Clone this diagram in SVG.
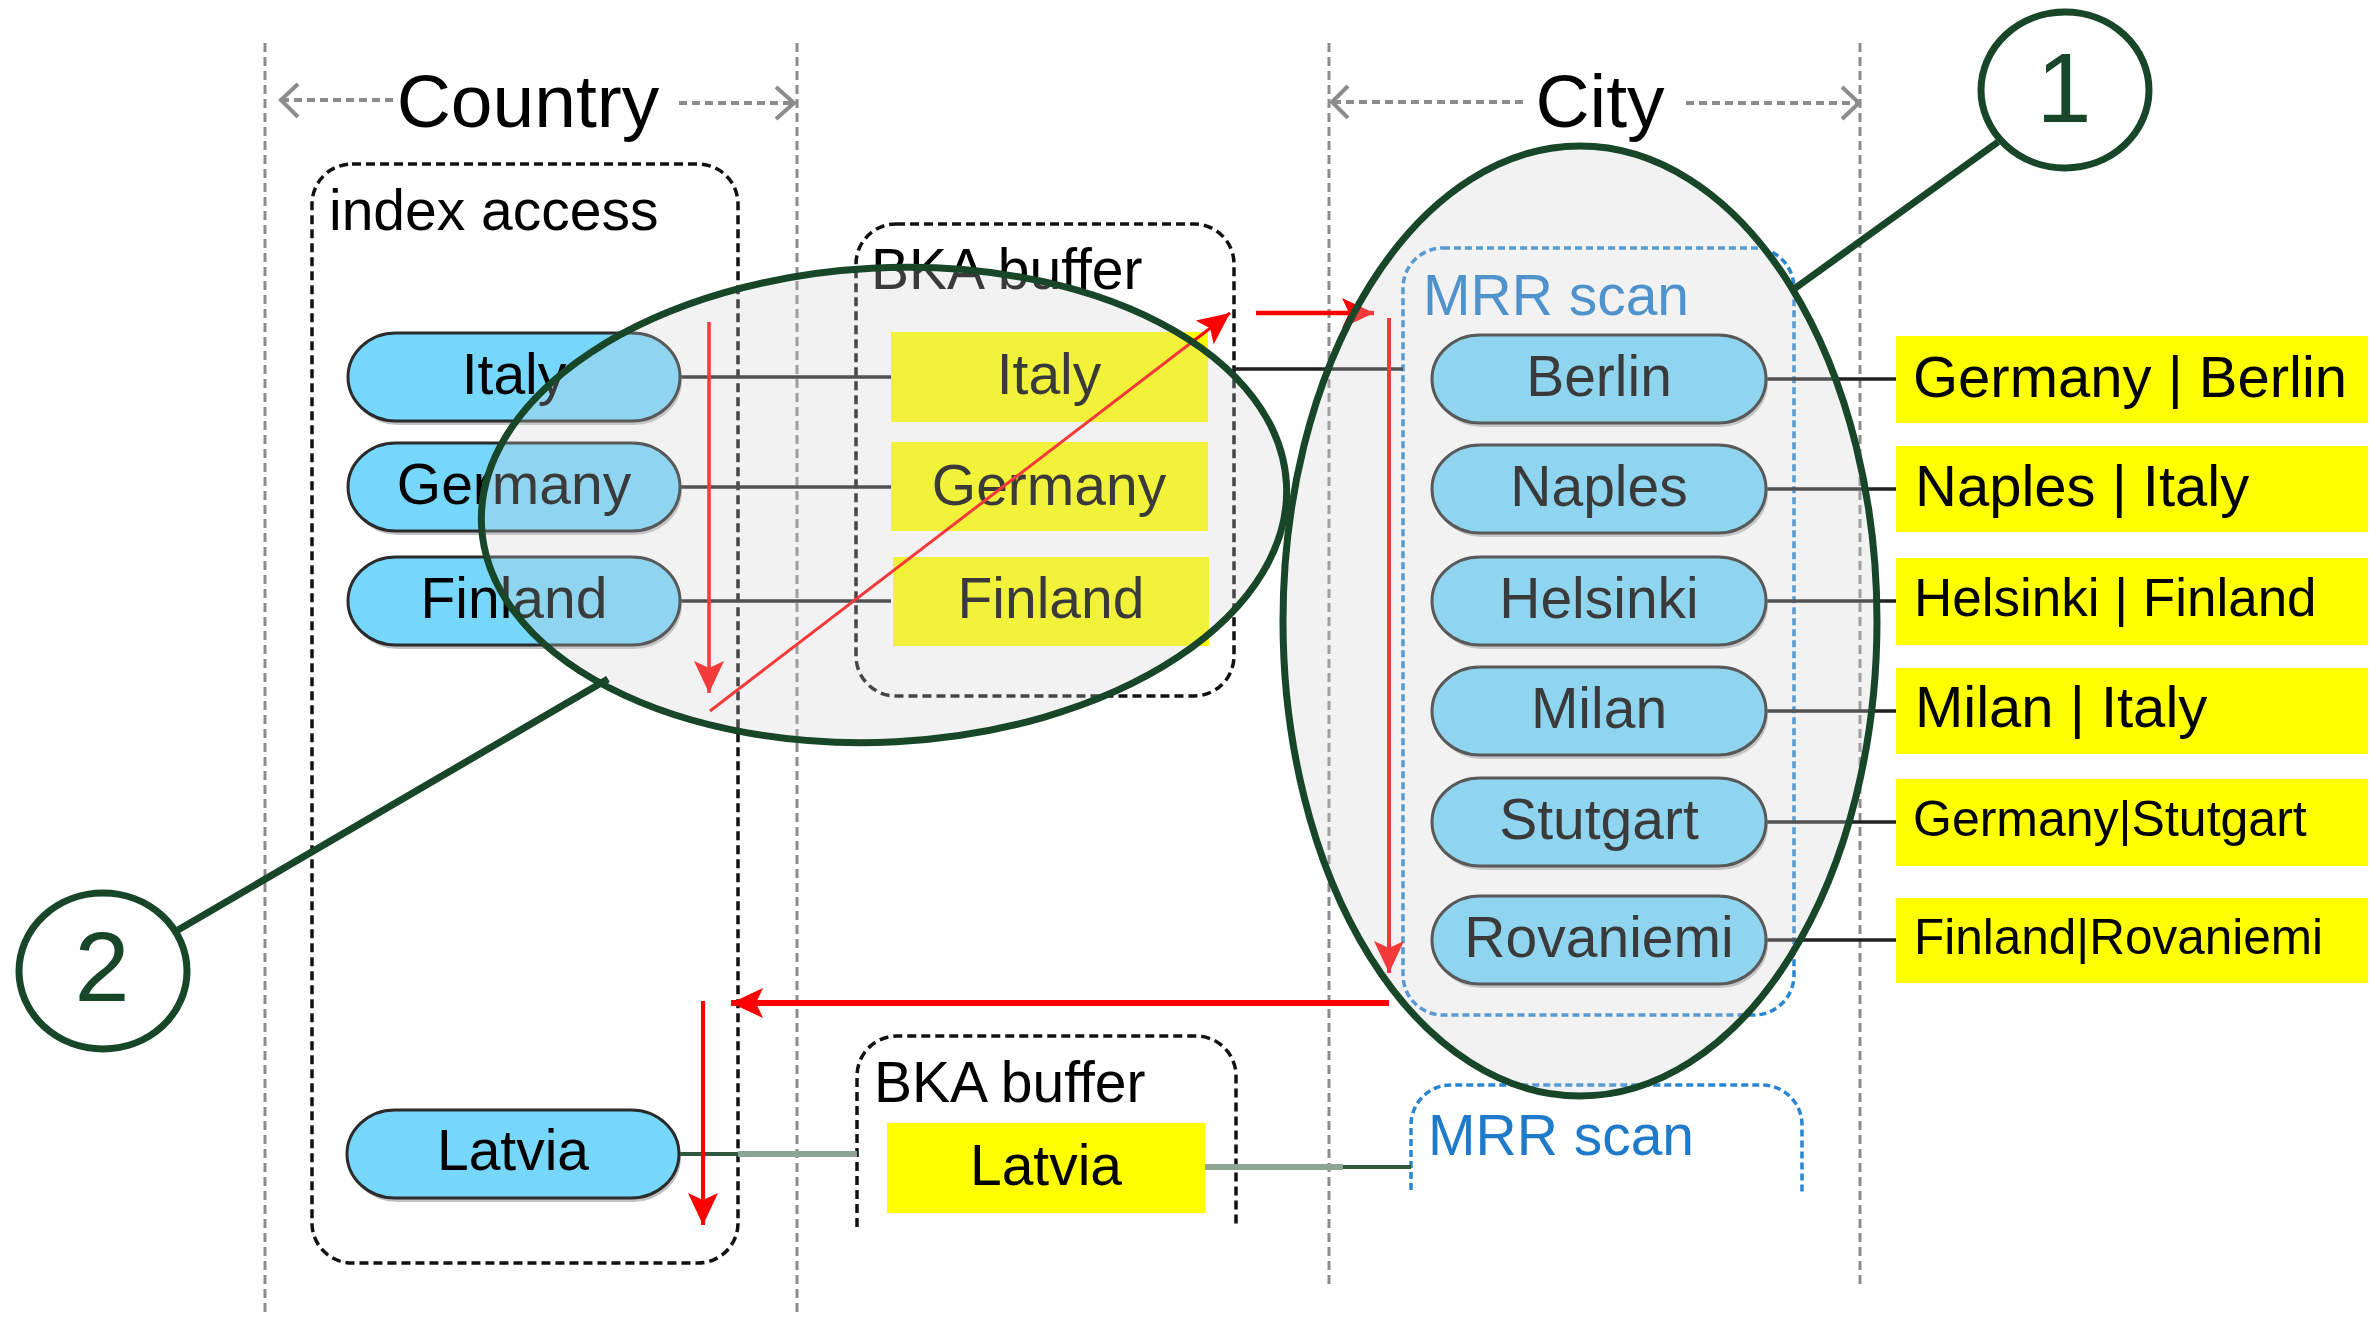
<svg xmlns="http://www.w3.org/2000/svg" width="2373" height="1321" viewBox="0 0 2373 1321">
<style>
text{font-family:"Liberation Sans",Arial,Helvetica,sans-serif}
.lbl{font-size:57px;text-anchor:middle;fill:#000}
.hdr{font-size:75px;text-anchor:middle;fill:#000}
.guide{stroke:#8c8c8c;stroke-width:3;stroke-dasharray:9 5;fill:none}
.span{stroke:#8c8c8c;stroke-width:4;stroke-dasharray:8 5;fill:none}
.chev{stroke:#8c8c8c;stroke-width:4;fill:none}
.box{fill:none;stroke:#111;stroke-width:3.5;stroke-dasharray:9 5}
.mrr{fill:none;stroke:#2a86d1;stroke-width:3.5;stroke-dasharray:7 4}
.mrrt{font-size:57px;fill:#1f7bc9}
.pill{fill:#76d7fb;stroke:#2b2b2b;stroke-width:3}
.shadow{fill:#8f8f8f;opacity:.55}
.ybox{fill:#ffff00}
.wire{stroke:#222;stroke-width:3.5}
.red{stroke:#ff0000;fill:none}
.zone{fill:#d0d0d0;fill-opacity:.28;stroke:#184628;stroke-width:7}
.lead{stroke:#184628;stroke-width:7;fill:none}
.tag{fill:none;stroke:#184628;stroke-width:7}
.num{font-size:99px;text-anchor:middle;fill:#184628}
.res{font-size:58px;fill:#000}
</style>
<defs>
<marker id="ah" markerUnits="userSpaceOnUse" markerWidth="34" markerHeight="30" viewBox="0 0 34 30" refX="32" refY="15" orient="auto"><path d="M0,0 L32,15 L0,30 L7,15 Z" fill="#ff0000"/></marker>
</defs>

<!-- column guides and headers -->
<g id="guides">
<path class="guide" d="M265,43 V1317 M797,43 V1317 M1329,43 V1287 M1860,43 V1287"/>
<path class="span" d="M281,100 H397 M679,103 H793 M1333,102 H1527 M1686,103 H1858"/>
<path class="chev" d="M298,84 L281,100 L298,117 M776,87 L794,103 L776,119 M1348,86 L1332,102 L1348,118 M1842,87 L1859,103 L1842,119"/>
<text class="hdr" x="528" y="127">Country</text>
<text class="hdr" x="1600" y="127">City</text>
</g>

<!-- dashed containers -->
<g id="index-access">
<rect class="box" x="312" y="164" width="426" height="1099" rx="40"/>
<text x="329" y="230" style="font-size:57px">index access</text>
</g>
<g id="bka-buffer-1">
<rect class="box" x="856" y="224" width="378" height="472" rx="40"/>
<text x="871" y="289" style="font-size:57px">BKA buffer</text>
</g>
<g id="bka-buffer-2">
<path class="box" d="M857,1227 V1076 A40,40 0 0 1 897,1036 H1196 A40,40 0 0 1 1236,1076 V1227"/>
<text x="874" y="1102" style="font-size:57px">BKA buffer</text>
</g>
<g id="mrr-scan-1">
<rect class="mrr" x="1403" y="248" width="391" height="767" rx="40"/>
<text class="mrrt" x="1423" y="315">MRR scan</text>
</g>
<g id="mrr-scan-2">
<path class="mrr" d="M1411,1190 V1125 A40,40 0 0 1 1451,1085 H1762 A40,40 0 0 1 1802,1125 V1192"/>
<text class="mrrt" x="1428" y="1155">MRR scan</text>
</g>

<!-- plain connectors -->
<g id="connectors">
<path class="wire" d="M680,377 H891 M680,487 H891 M680,601 H891 M1234,369 H1403"/>
<path class="wire" d="M1766,379 H1896 M1766,489 H1896 M1766,601 H1896 M1766,711 H1896 M1766,822 H1896 M1766,940 H1896"/>
<path d="M680,1154 H738" stroke="#2f5a3e" stroke-width="4"/>
<path d="M738,1154 H857" stroke="#8ea593" stroke-width="6"/>
<path d="M1205,1167 H1343" stroke="#8ea593" stroke-width="6"/>
<path d="M1343,1167 H1411" stroke="#2f5a3e" stroke-width="4"/>
</g>

<!-- country keys -->
<g id="country-italy">
<rect class="shadow" x="350" y="337" width="332" height="88" rx="48" ry="44"/>
<rect class="pill" x="348" y="333" width="332" height="88" rx="48" ry="44"/>
<text class="lbl" x="514" y="394">Italy</text>
</g>
<g id="country-germany">
<rect class="shadow" x="350" y="447" width="332" height="88" rx="48" ry="44"/>
<rect class="pill" x="348" y="443" width="332" height="88" rx="48" ry="44"/>
<text class="lbl" x="514" y="504">Germany</text>
</g>
<g id="country-finland">
<rect class="shadow" x="350" y="561" width="332" height="88" rx="48" ry="44"/>
<rect class="pill" x="348" y="557" width="332" height="88" rx="48" ry="44"/>
<text class="lbl" x="514" y="618">Finland</text>
</g>
<g id="country-latvia">
<rect class="shadow" x="349" y="1114" width="332" height="88" rx="48" ry="44"/>
<rect class="pill" x="347" y="1110" width="332" height="88" rx="48" ry="44"/>
<text class="lbl" x="513" y="1170">Latvia</text>
</g>

<!-- buffered keys -->
<g id="buf-italy"><rect class="ybox" x="891" y="332" width="317" height="90"/><text class="lbl" x="1049" y="394">Italy</text></g>
<g id="buf-germany"><rect class="ybox" x="891" y="442" width="317" height="89"/><text class="lbl" x="1049" y="505">Germany</text></g>
<g id="buf-finland"><rect class="ybox" x="893" y="557" width="316" height="89"/><text class="lbl" x="1051" y="618">Finland</text></g>
<g id="buf-latvia"><rect class="ybox" x="887" y="1123" width="318" height="90"/><text class="lbl" x="1046" y="1185">Latvia</text></g>

<!-- city rows -->
<g id="city-berlin">
<rect class="shadow" x="1434" y="339" width="334" height="88" rx="48" ry="44"/>
<rect class="pill" x="1432" y="335" width="334" height="88" rx="48" ry="44"/>
<text class="lbl" x="1599" y="396">Berlin</text>
</g>
<g id="city-naples">
<rect class="shadow" x="1434" y="449" width="334" height="88" rx="48" ry="44"/>
<rect class="pill" x="1432" y="445" width="334" height="88" rx="48" ry="44"/>
<text class="lbl" x="1599" y="506">Naples</text>
</g>
<g id="city-helsinki">
<rect class="shadow" x="1434" y="561" width="334" height="88" rx="48" ry="44"/>
<rect class="pill" x="1432" y="557" width="334" height="88" rx="48" ry="44"/>
<text class="lbl" x="1599" y="618">Helsinki</text>
</g>
<g id="city-milan">
<rect class="shadow" x="1434" y="671" width="334" height="88" rx="48" ry="44"/>
<rect class="pill" x="1432" y="667" width="334" height="88" rx="48" ry="44"/>
<text class="lbl" x="1599" y="728">Milan</text>
</g>
<g id="city-stutgart">
<rect class="shadow" x="1434" y="782" width="334" height="88" rx="48" ry="44"/>
<rect class="pill" x="1432" y="778" width="334" height="88" rx="48" ry="44"/>
<text class="lbl" x="1599" y="839">Stutgart</text>
</g>
<g id="city-rovaniemi">
<rect class="shadow" x="1434" y="900" width="334" height="88" rx="48" ry="44"/>
<rect class="pill" x="1432" y="896" width="334" height="88" rx="48" ry="44"/>
<text class="lbl" x="1599" y="957">Rovaniemi</text>
</g>

<!-- joined results -->
<g id="res-germany-berlin"><rect class="ybox" x="1896" y="336" width="472" height="87"/><text class="res" x="1913" y="397">Germany | Berlin</text></g>
<g id="res-naples-italy"><rect class="ybox" x="1896" y="446" width="472" height="86"/><text class="res" x="1915" y="506">Naples | Italy</text></g>
<g id="res-helsinki-finland"><rect class="ybox" x="1896" y="558" width="472" height="87"/><text class="res" x="1914" y="616" style="font-size:53px">Helsinki | Finland</text></g>
<g id="res-milan-italy"><rect class="ybox" x="1896" y="668" width="472" height="86"/><text class="res" x="1915" y="727">Milan | Italy</text></g>
<g id="res-germany-stutgart"><rect class="ybox" x="1896" y="779" width="472" height="87"/><text class="res" x="1913" y="836" style="font-size:50px">Germany|Stutgart</text></g>
<g id="res-finland-rovaniemi"><rect class="ybox" x="1896" y="898" width="472" height="85"/><text class="res" x="1914" y="954" style="font-size:49.5px">Finland|Rovaniemi</text></g>

<!-- execution flow -->
<g id="flow">
<path class="red" stroke-width="3.5" d="M709,322 V693" marker-end="url(#ah)"/>
<path class="red" stroke-width="3" d="M710,711 L1230,313" marker-end="url(#ah)"/>
<path class="red" stroke-width="4.5" d="M1256,313 H1374" marker-end="url(#ah)"/>
<path class="red" stroke-width="4" d="M1389,318 V973" marker-end="url(#ah)"/>
<path class="red" stroke-width="6" d="M1389,1003 H731" marker-end="url(#ah)"/>
<path class="red" stroke-width="4" d="M703,1001 V1225" marker-end="url(#ah)"/>
</g>

<!-- highlighted zones with callouts -->
<g id="zone-2">
<ellipse class="zone" cx="884" cy="505" rx="403" ry="237" transform="rotate(-3 884 505)"/>
<path class="lead" d="M608,679 L178,930"/>
<ellipse class="tag" cx="103" cy="971" rx="84" ry="78"/>
<text class="num" x="102" y="1001">2</text>
</g>
<g id="zone-1">
<ellipse class="zone" cx="1580" cy="621" rx="297" ry="475"/>
<path class="lead" d="M1794,289 L1998,142"/>
<ellipse class="tag" cx="2065" cy="90" rx="84" ry="78"/>
<text class="num" x="2064" y="122">1</text>
</g>
</svg>
